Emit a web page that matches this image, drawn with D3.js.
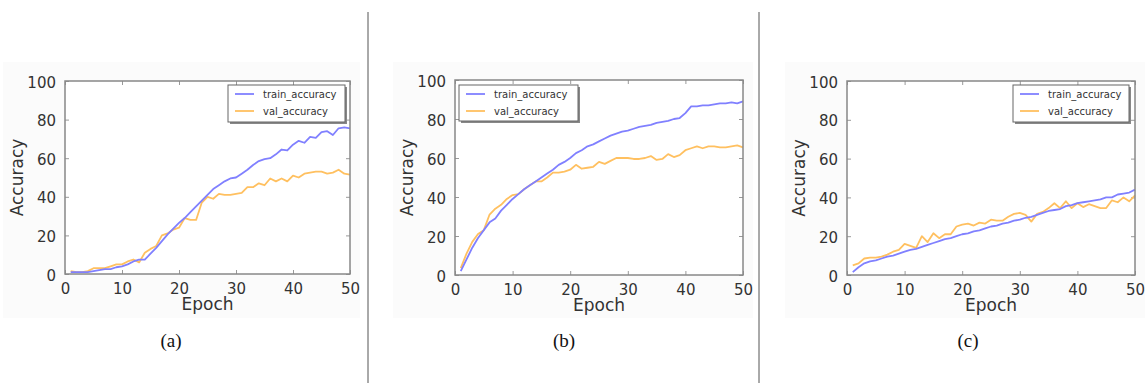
<!DOCTYPE html>
<html>
<meta charset="utf-8">
<style>
body { margin: 0; background: #fff; }
svg { display: block; }
.tick text { font-family: "DejaVu Sans", sans-serif; font-size: 15px; fill: #333; }
.axlabel { font-family: "DejaVu Sans", sans-serif; font-size: 17px; fill: #333; }
.leg text { font-family: "DejaVu Sans", sans-serif; font-size: 10px; fill: #333; }
.cap { font-family: "Liberation Serif", "Times New Roman", serif; font-size: 19px; fill: #111; }
</style>
<body>
<svg id="chart" width="1145" height="383"></svg>
<script src="https://cdn.jsdelivr.net/npm/d3@7"></script>
<script>
var epochs = d3.range(1, 51);
var yTicks = [0, 20, 40, 60, 80, 100];
var xTicks = [0, 10, 20, 30, 40, 50];
var seriesNames = ["train_accuracy", "val_accuracy"];
var captions = ["(a)", "(b)", "(c)"];

var trainA = [1, 1, 1, 1, 1.5, 2, 2.5, 2.5, 3.5, 4, 5, 6.5, 7.5, 7.5, 10.5, 13.5, 17, 20.5, 23.5, 26.5,
	29, 32, 35, 38, 41, 44, 46, 48, 49.5, 50, 52, 54, 56.5, 58.5, 59.5, 60, 62, 64.5, 64, 67,
	69, 68, 71, 70.5, 73.5, 74, 72, 75.5, 76, 75.5];
var valA = [1.5, 1, 1, 1.5, 3, 3, 3, 4, 5, 5, 6.5, 7.5, 6, 11, 13, 14.5, 20, 21, 23, 24,
	29, 28, 28, 37, 40, 39, 41.5, 41, 41, 41.5, 42, 45, 45, 47, 46, 49.5, 48, 49.5, 48, 51,
	50, 52, 52.5, 53, 53, 52, 52.5, 54, 52, 51.5];

var trainB = [2, 8, 14, 19, 23, 27, 29, 33, 36, 39, 41.5, 44, 46, 48, 50, 52, 54, 56.5, 58, 60,
	62.5, 64, 66, 67, 68.5, 70, 71.5, 72.5, 73.5, 74, 75, 76, 76.5, 77, 78, 78.5, 79, 80, 80.5, 83,
	86.5, 86.5, 87, 87, 87.5, 88, 88, 88.5, 88, 89];
var valB = [3.5, 11, 17, 21, 23, 31, 34, 36, 39, 41, 41.5, 44, 46, 48, 48, 50, 52.5, 52.5, 53, 54,
	56.5, 54.5, 55, 55.5, 58, 57, 58.5, 60, 60, 60, 59.5, 59.5, 60, 61, 59, 59.5, 62, 60.5, 61.5, 64,
	65, 66, 65, 66, 66, 65.5, 65.5, 66, 66.5, 65.5];

var trainC = [1.5, 4, 6, 7, 7.5, 8.5, 9.5, 10, 11, 12, 13, 13.5, 14.5, 15.5, 16.5, 17.5, 18.5, 19, 20, 21,
	21.5, 22.5, 23, 24, 25, 25.5, 26.5, 27, 28, 28.5, 29.5, 30, 31, 32, 33, 33.5, 34, 35.5, 36, 37,
	37.5, 38, 38.5, 39, 40, 40, 41.5, 42, 42.5, 44];
var valC = [5, 6, 8.5, 9, 9, 9.5, 10.5, 12, 13, 16, 15, 14, 20, 17, 21.5, 19, 21, 21, 25, 26,
	26.5, 25.5, 27, 26.5, 28.5, 28, 28, 30, 31.5, 32, 31, 27.5, 31.5, 32.5, 34.5, 37, 34.5, 38, 34.5, 37,
	35, 36.5, 35.5, 34.5, 34.5, 38.5, 37.5, 40, 38, 41];

var colors = ["#8080ff", "#ffc060"];

// panel frames and legend spots
var panels = [
	{x0: 65, x1: 350, y0: 81, y1: 274, train: trainA, val: valA, leg: {x: 228, y: 85, w: 117, h: 37}, cap: 171},
	{x0: 455, x1: 743, y0: 80, y1: 275, train: trainB, val: valB, leg: {x: 459, y: 85, w: 119, h: 36}, cap: 564},
	{x0: 847, x1: 1135, y0: 81, y1: 275, train: trainC, val: valC, leg: {x: 1013, y: 85, w: 116, h: 37}, cap: 968}
];

var svg = d3.select("#chart");

// separators
[368, 759].forEach(function(sx) {
	svg.append("line").attr("x1", sx).attr("x2", sx).attr("y1", 12).attr("y2", 383)
		.attr("stroke", "#555").attr("stroke-width", 1);
});

panels.forEach(function(p, i) {
	var g = svg.append("g");

	g.append("rect").attr("x", p.x0 - 62).attr("y", 62).attr("width", p.x1 - p.x0 + 72)
		.attr("height", 256).attr("fill", "#fbfbfb");

	var x = d3.scaleLinear().domain([0, 50]).range([p.x0, p.x1]);
	var y = d3.scaleLinear().domain([0, 100]).range([p.y1, p.y0]);

	g.append("rect").attr("x", p.x0).attr("y", p.y0).attr("width", p.x1 - p.x0)
		.attr("height", p.y1 - p.y0).attr("fill", "#fff");

	var left = g.append("g").attr("transform", "translate(" + p.x0 + ",0)")
		.call(d3.axisLeft(y).tickValues(yTicks).tickSizeInner(-4).tickSizeOuter(0).tickPadding(9));
	var right = g.append("g").attr("transform", "translate(" + p.x1 + ",0)")
		.call(d3.axisRight(y).tickValues(yTicks).tickSizeInner(-4).tickSizeOuter(0).tickFormat(""));
	var bottom = g.append("g").attr("transform", "translate(0," + p.y1 + ")")
		.call(d3.axisBottom(x).tickValues(xTicks).tickSizeInner(-4).tickSizeOuter(0).tickPadding(9));
	var top = g.append("g").attr("transform", "translate(0," + p.y0 + ")")
		.call(d3.axisTop(x).tickValues(xTicks).tickSizeInner(-4).tickSizeOuter(0).tickFormat(""));
	[left, right, bottom, top].forEach(function(a) {
		a.select(".domain").remove();
		a.selectAll(".tick line").attr("stroke", "#999");
	});
	left.selectAll(".tick text").attr("dy", "0.4em");
	bottom.selectAll(".tick text").attr("dy", "0.75em");

	var line = d3.line().x(function(d, j) { return x(epochs[j]); }).y(function(d) { return y(d); });

	g.append("path").datum(p.val).attr("d", line).attr("fill", "none")
		.attr("stroke", colors[1]).attr("stroke-width", 1.8).attr("stroke-linejoin", "round");
	g.append("path").datum(p.train).attr("d", line).attr("fill", "none")
		.attr("stroke", colors[0]).attr("stroke-width", 1.8).attr("stroke-linejoin", "round");

	g.append("rect").attr("x", p.x0).attr("y", p.y0).attr("width", p.x1 - p.x0)
		.attr("height", p.y1 - p.y0).attr("fill", "none").attr("stroke", "#888").attr("stroke-width", 1.5);

	// legend with shadow
	var lg = g.append("g").attr("class", "leg");
	lg.append("rect").attr("x", p.leg.x + 2).attr("y", p.leg.y + 2).attr("width", p.leg.w)
		.attr("height", p.leg.h).attr("fill", "#888");
	lg.append("rect").attr("x", p.leg.x).attr("y", p.leg.y).attr("width", p.leg.w)
		.attr("height", p.leg.h).attr("fill", "#fff").attr("stroke", "#666").attr("stroke-width", 1);
	seriesNames.forEach(function(name, k) {
		var ly = p.leg.y + 9 + k * 17;
		lg.append("line").attr("x1", p.leg.x + 7).attr("x2", p.leg.x + 26).attr("y1", ly).attr("y2", ly)
			.attr("stroke", colors[k]).attr("stroke-width", 1.8);
		lg.append("text").attr("x", p.leg.x + 35).attr("y", ly).attr("dy", "0.35em").text(name);
	});

	g.append("text").attr("class", "axlabel").attr("x", (p.x0 + p.x1) / 2).attr("y", p.y1 + 36)
		.attr("text-anchor", "middle").text("Epoch");
	g.append("text").attr("class", "axlabel")
		.attr("transform", "translate(" + (p.x0 - 42) + "," + ((p.y0 + p.y1) / 2) + ") rotate(-90)")
		.attr("text-anchor", "middle").text("Accuracy");

	svg.append("text").attr("class", "cap").attr("x", p.cap).attr("y", 347)
		.attr("text-anchor", "middle").text(captions[i]);
});
</script>
</body>
</html>
